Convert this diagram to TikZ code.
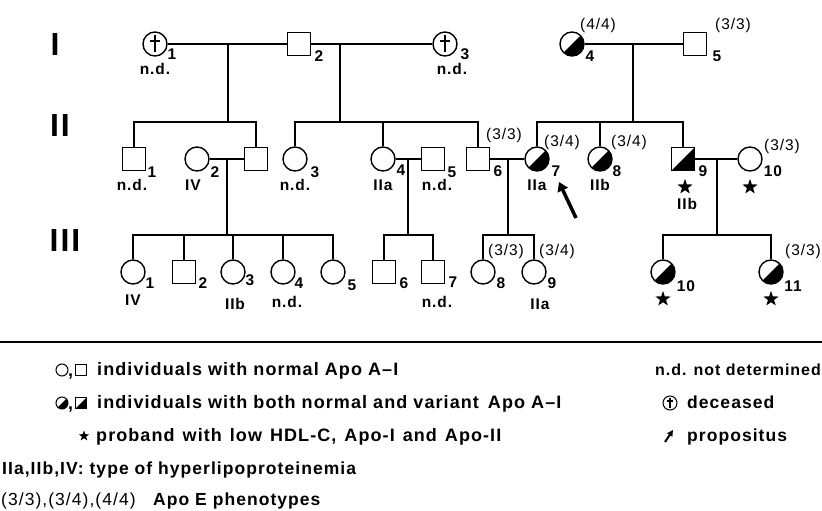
\documentclass[tikz,border=0pt]{standalone}
\usepackage{fontspec}
\setmainfont{Liberation Sans}[LetterSpace=6]
\usetikzlibrary{arrows.meta, shapes.geometric, calc}

\tikzset{
  female/.style={circle, draw, line width=1.4pt, minimum size=24pt, inner sep=0pt},
  male/.style={rectangle, draw, line width=1.4pt, minimum size=23pt, inner sep=0pt},
  carrier/.style={path picture={
      \fill (path picture bounding box.north east) -- (path picture bounding box.south east)
            -- (path picture bounding box.south west) -- cycle;}},
  deceased/.style={path picture={
      \draw[line width=0.08*#1]
        ([yshift=0.36*#1]path picture bounding box.center) -- ([yshift=-0.34*#1]path picture bounding box.center)
        ([xshift=-0.21*#1, yshift=0.14*#1]path picture bounding box.center) -- ([xshift=0.21*#1, yshift=0.14*#1]path picture bounding box.center);}},
  proband/.style={star, star points=5, star point ratio=2.5, fill, draw=none,
                  inner sep=0pt, minimum size=16pt},
  pedline/.style={line width=1.2pt},
  propo/.style={-{Triangle[length=9pt,width=11pt]}, line width=3.5pt},
  gen/.style={font=\fontsize{32}{32}\selectfont\bfseries, inner sep=0pt},
  idnum/.style={font=\fontsize{15.5}{15.5}\selectfont\bfseries, inner sep=0pt},
  pheno/.style={font=\fontsize{15.5}{15.5}\selectfont, inner sep=0pt},
  keytext/.style={font=\fontsize{18}{18}\selectfont\bfseries, anchor=base west, inner sep=0pt},
}

\begin{document}
\begin{tikzpicture}[x=1pt, y=-1pt]
  \useasboundingbox (0,0) rectangle (822,511);

  % --- generation numerals ---
  \node[gen] (genI)   at (55,44)  {I};
  \node[gen] (genII)  at (60,125) {II};
  \node[gen] (genIII) at (65,240) {III};

  % --- generation I ---
  \node[female, deceased=24pt] (i1) at (155,44) {};
  \node[male]                  (i2) at (299,44) {};
  \node[female, deceased=24pt] (i3) at (445,44) {};
  \node[female, carrier]       (i4) at (572,44) {};
  \node[male]                  (i5) at (695,44) {};

  \node[idnum] (i1num) at (172,54) {1};
  \node[idnum] (i1nd)  at (155,69) {n.d.};
  \node[idnum] (i2num) at (319,56) {2};
  \node[idnum] (i3num) at (465,54) {3};
  \node[idnum] (i3nd)  at (452,69) {n.d.};
  \node[pheno] (i4ph)  at (598,25) {(4/4)};
  \node[idnum] (i4num) at (590,56) {4};
  \node[pheno] (i5ph)  at (733,25) {(3/3)};
  \node[idnum] (i5num) at (717,56) {5};

  \draw[pedline] (i1) -- (i2);
  \draw[pedline] (i2) -- (i3);
  \draw[pedline] (i4) -- (i5);

  \coordinate (m12) at (228,44);
  \coordinate (m23) at (340,44);
  \coordinate (m45) at (633,44);
  \coordinate (s12) at (228,122);
  \coordinate (s23) at (340,122);
  \coordinate (s45) at (633,122);

  % --- generation II ---
  \node[male]             (ii1)  at (134,159) {};
  \node[female]           (ii2)  at (197,159) {};
  \node[male]             (ii2h) at (256,159) {};
  \node[female]           (ii3)  at (295,159) {};
  \node[female]           (ii4)  at (383,159) {};
  \node[male]             (ii5)  at (433,159) {};
  \node[male]             (ii6)  at (478,159) {};
  \node[female, carrier]  (ii7)  at (537,159) {};
  \node[female, carrier]  (ii8)  at (600,159) {};
  \node[male, carrier]    (ii9)  at (683,159) {};
  \node[female]           (ii10) at (750,159) {};

  \node[idnum] (ii1num) at (152,172) {1};
  \node[idnum] (ii1nd)  at (132,185) {n.d.};
  \node[idnum] (ii2num) at (215,172) {2};
  \node[idnum] (ii2hlp) at (193,185) {IV};
  \node[idnum] (ii3num) at (315,172) {3};
  \node[idnum] (ii3nd)  at (295,185) {n.d.};
  \node[idnum] (ii4num) at (401,170) {4};
  \node[idnum] (ii4hlp) at (383,185) {IIa};
  \node[idnum] (ii5num) at (452,172) {5};
  \node[idnum] (ii5nd)  at (437,185) {n.d.};
  \node[pheno] (ii6ph)  at (504,135) {(3/3)};
  \node[idnum] (ii6num) at (498,171) {6};
  \node[pheno] (ii7ph)  at (562,142) {(3/4)};
  \node[idnum] (ii7num) at (556,171) {7};
  \node[idnum] (ii7hlp) at (537,185) {IIa};
  \node[pheno] (ii8ph)  at (629,142) {(3/4)};
  \node[idnum] (ii8num) at (617,171) {8};
  \node[idnum] (ii8hlp) at (600,185) {IIb};
  \node[idnum] (ii9num) at (703,171) {9};
  \node[proband] (ii9pb) at (685,187) {};
  \node[idnum] (ii9hlp) at (687,204) {IIb};
  \node[pheno] (ii10ph)  at (782,146) {(3/3)};
  \node[idnum] (ii10num) at (773,171) {10};
  \node[proband] (ii10pb) at (750,187) {};

  \coordinate (arrtail) at (576,218);
  \coordinate (arrhead) at (559,182);
  \draw[propo] (arrtail) -- (arrhead);

  \draw[pedline] (m12) -- (s12);
  \draw[pedline] (ii1) |- (s12) -| (ii2h);
  \draw[pedline] (m23) -- (s23);
  \draw[pedline] (ii3) |- (s23) -| (ii6);
  \draw[pedline] (ii4) -- (ii4 |- s23);
  \draw[pedline] (m45) -- (s45);
  \draw[pedline] (ii7) |- (s45) -| (ii9);
  \draw[pedline] (ii8) -- (ii8 |- s45);

  \draw[pedline] (ii2) -- (ii2h);
  \draw[pedline] (ii4) -- (ii5);
  \draw[pedline] (ii6) -- (ii7);
  \draw[pedline] (ii9) -- (ii10);

  \coordinate (m2)  at (227,159);
  \coordinate (m4)  at (408,159);
  \coordinate (m6)  at (508,159);
  \coordinate (m9)  at (717,159);
  \coordinate (s2)  at (227,235);
  \coordinate (s4)  at (408,235);
  \coordinate (s6)  at (508,235);
  \coordinate (s9)  at (717,235);

  % --- generation III ---
  \node[female]          (iii1)  at (133,272) {};
  \node[male]            (iii2)  at (184,272) {};
  \node[female]          (iii3)  at (233,272) {};
  \node[female]          (iii4)  at (283,272) {};
  \node[female]          (iii5)  at (333,272) {};
  \node[male]            (iii6)  at (384,272) {};
  \node[male]            (iii7)  at (433,272) {};
  \node[female]          (iii8)  at (483,272) {};
  \node[female]          (iii9)  at (534,272) {};
  \node[female, carrier] (iii10) at (663,272) {};
  \node[female, carrier] (iii11) at (771,272) {};

  \node[idnum] (iii1num) at (150,283) {1};
  \node[idnum] (iii1hlp) at (133,300) {IV};
  \node[idnum] (iii2num) at (203,283) {2};
  \node[idnum] (iii3num) at (250,280) {3};
  \node[idnum] (iii3hlp) at (235,304) {IIb};
  \node[idnum] (iii4num) at (299,283) {4};
  \node[idnum] (iii4nd)  at (287,302) {n.d.};
  \node[idnum] (iii5num) at (352,285) {5};
  \node[idnum] (iii6num) at (404,283) {6};
  \node[idnum] (iii7num) at (453,282) {7};
  \node[idnum] (iii7nd)  at (437,302) {n.d.};
  \node[pheno] (iii8ph)  at (506,251) {(3/3)};
  \node[idnum] (iii8num) at (501,283) {8};
  \node[pheno] (iii9ph)  at (557,251) {(3/4)};
  \node[idnum] (iii9num) at (552,283) {9};
  \node[idnum] (iii9hlp) at (540,304) {IIa};
  \node[idnum] (iii10num) at (686,286) {10};
  \node[proband] (iii10pb) at (663,299) {};
  \node[pheno, anchor=east] (iii11ph) at (821,251) {(3/3)};
  \node[idnum] (iii11num) at (793,286) {11};
  \node[proband] (iii11pb) at (771,299) {};

  \draw[pedline] (m2) -- (s2);
  \draw[pedline] (iii1) |- (s2) -| (iii5);
  \draw[pedline] (iii2) -- (iii2 |- s2);
  \draw[pedline] (iii3) -- (iii3 |- s2);
  \draw[pedline] (iii4) -- (iii4 |- s2);
  \draw[pedline] (m4) -- (s4);
  \draw[pedline] (iii6) |- (s4) -| (iii7);
  \draw[pedline] (m6) -- (s6);
  \draw[pedline] (iii8) |- (s6) -| (iii9);
  \draw[pedline] (m9) -- (s9);
  \draw[pedline] (iii10) |- (s9) -| (iii11);

  % --- key ---
  \coordinate (ruleL) at (0,342);
  \coordinate (ruleR) at (822,342);
  \draw[line width=1.8pt] (ruleL) -- (ruleR);

  \node[female, line width=1pt, minimum size=12pt] (keyf) at (62,370) {};
  \node[keytext] (keyc1) at (68,376) {,};
  \node[male, line width=1pt, minimum size=11pt] (keym) at (81,370) {};
  \node[keytext] (keyn) at (97,375) {individuals with normal Apo A--I};

  \node[female, carrier, line width=1pt, minimum size=12pt] (keycf) at (62,403) {};
  \node[keytext] (keyc2) at (68,409) {,};
  \node[male, carrier, line width=1pt, minimum size=11pt] (keycm) at (81,403) {};
  \node[keytext] (keyv) at (97,408) {individuals with both normal and variant\enspace Apo A--I};

  \node[proband, minimum size=11pt] (keypb) at (84,436) {};
  \node[keytext] (keyp) at (96,441) {{\spaceskip=8pt plus 2pt\relax proband with low HDL-C, Apo-I and Apo-II}};

  \node[keytext, font=\fontsize{17.5}{17.5}\selectfont\bfseries] (keyh) at (2,474) {IIa,IIb,IV: type of hyperlipoproteinemia};
  \node[keytext, font=\fontsize{17.5}{17.5}\selectfont\bfseries] (keye) at (1,505) {{\mdseries (3/3),(3/4),(4/4)}\quad Apo E phenotypes};

  \node[keytext, anchor=base east, font=\fontsize{16}{16}\selectfont\bfseries] (keynd) at (821,375) {n.d. not determined};
  \node[female, deceased=14pt, line width=1pt, minimum size=14pt] (keyd) at (670,403) {};
  \node[keytext, font=\fontsize{17.5}{17.5}\selectfont\bfseries] (keydt) at (687,408) {deceased};
  \coordinate (keyatail) at (665,442);
  \coordinate (keyahead) at (673,430);
  \draw[-{Triangle[length=6pt,width=6pt]}, line width=2pt] (keyatail) -- (keyahead);
  \node[keytext, font=\fontsize{17.5}{17.5}\selectfont\bfseries] (keyat) at (687,441) {propositus};

\end{tikzpicture}
\end{document}
